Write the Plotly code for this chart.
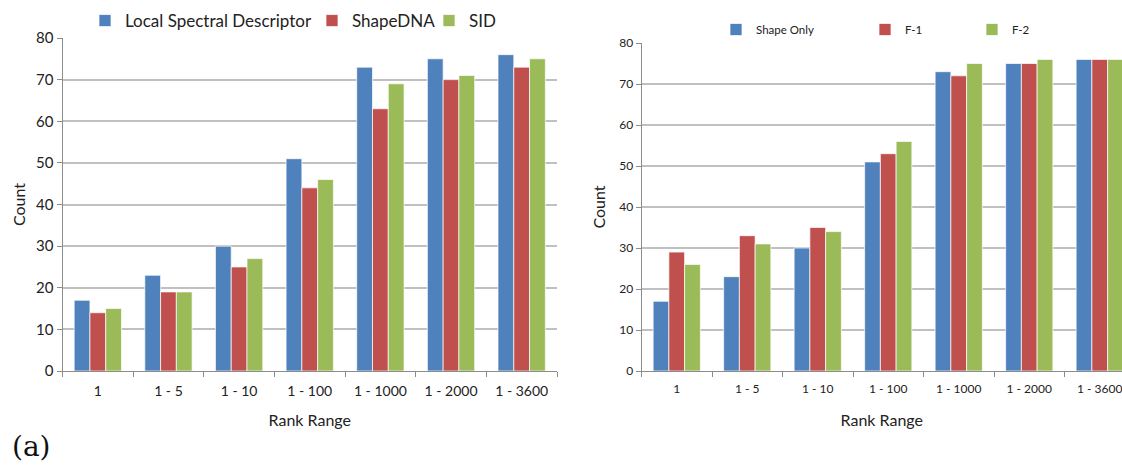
import plotly.graph_objects as go

categories = ["1", "1 - 5", "1 - 10", "1 - 100", "1 - 1000", "1 - 2000", "1 - 3600"]

# Left panel (a)
lsd = [17, 23, 30, 51, 73, 75, 76]
shapedna = [14, 19, 25, 44, 63, 70, 73]
sid = [15, 19, 27, 46, 69, 71, 75]

# Right panel
shape_only = [17, 23, 30, 51, 73, 75, 76]
f1 = [29, 33, 35, 53, 72, 75, 76]
f2 = [26, 31, 34, 56, 75, 76, 76]

BLUE, RED, GREEN = "#4F81BD", "#C0504D", "#9BBB59"
FONT = "Lato"
W, H = 1122, 468
edge = dict(color="rgba(255,255,255,0.7)", width=1)

left_series = [("Local Spectral Descriptor", lsd, BLUE, "legend", 85),
               ("ShapeDNA", shapedna, RED, "legend2", 312),
               ("SID", sid, GREEN, "legend3", 429)]
right_series = [("Shape Only", shape_only, BLUE, "legend4", 716),
                ("F-1", f1, RED, "legend5", 865),
                ("F-2", f2, GREEN, "legend6", 972)]

fig = go.Figure()
for name, vals, col, lg, _ in left_series:
    fig.add_trace(go.Bar(x=categories, y=vals, name=name, marker=dict(color=col, line=edge),
                         xaxis="x", yaxis="y", legend=lg))
for name, vals, col, lg, _ in right_series:
    fig.add_trace(go.Bar(x=categories, y=vals, name=name, marker=dict(color=col, line=edge),
                         xaxis="x2", yaxis="y2", legend=lg))

axcol = "#8C8C8C"
grid = "#C0C0C0"

def xax(domain, anchor, size, standoff, rng):
    return dict(domain=domain, anchor=anchor, type="category", range=rng, showline=True, linecolor=axcol,
                linewidth=1, ticks="outside", tickson="boundaries", ticklen=5, tickcolor=axcol,
                automargin=False, ticklabelstandoff=7,
                tickfont=dict(family=FONT, size=size, color="#222"),
                title=dict(text="Rank Range", font=dict(family=FONT, size=16, color="#222"), standoff=standoff),
                showgrid=False, fixedrange=True)

def yax(domain, anchor, size, standoff):
    return dict(domain=domain, anchor=anchor, range=[0, 80], dtick=10, showline=True, linecolor=axcol,
                linewidth=1, ticks="outside", ticklen=5, tickcolor=axcol, showgrid=True, gridcolor=grid,
                gridwidth=1.5, zeroline=False, automargin=False, fixedrange=True,
                tickfont=dict(family=FONT, size=size, color="#222"),
                title=dict(text="Count", font=dict(family=FONT, size=16, color="#222"), standoff=standoff))

layout_legends = {}
for name, vals, col, lg, px in left_series:
    layout_legends[lg] = dict(x=px / W, y=1 - 3 / H, xanchor="left", yanchor="top",
                              font=dict(family=FONT, size=17, color="#222"), bgcolor="rgba(0,0,0,0)")
for name, vals, col, lg, px in right_series:
    layout_legends[lg] = dict(x=px / W, y=1 - 15 / H, xanchor="left", yanchor="top",
                              font=dict(family=FONT, size=11.5, color="#222"), bgcolor="rgba(0,0,0,0)")

right_start = 641.5
cat_w = 70.5
right_end_cat = -0.5 + (W - right_start) / cat_w

fig.update_layout(
    width=W, height=H,
    margin=dict(l=0, r=0, t=0, b=0),
    paper_bgcolor="white", plot_bgcolor="white",
    barmode="group", bargap=0.33, bargroupgap=0.0,
    font=dict(family=FONT, color="#222"),
    xaxis=xax([62.5 / W, 557 / W], "y", 14, 17, [-0.5, 6.5]),
    yaxis=yax([97 / H, 430 / H], "x", 15, 6),
    xaxis2=xax([right_start / W, 1.0], "y2", 12, 19, [-0.5, right_end_cat]),
    yaxis2=yax([97 / H, 425 / H], "x2", 12, 9),
    showlegend=True,
    annotations=[dict(text="(a)", x=10 / W, y=1 - 446 / H, xref="paper", yref="paper", showarrow=False,
                      font=dict(family="DejaVu Serif", size=28, color="#111"), xanchor="left", yanchor="middle")],
    **layout_legends,
)

fig.write_html("out.html", config={"displayModeBar": False},
               post_script="document.body.style.margin='0';document.body.style.overflow='hidden';")
